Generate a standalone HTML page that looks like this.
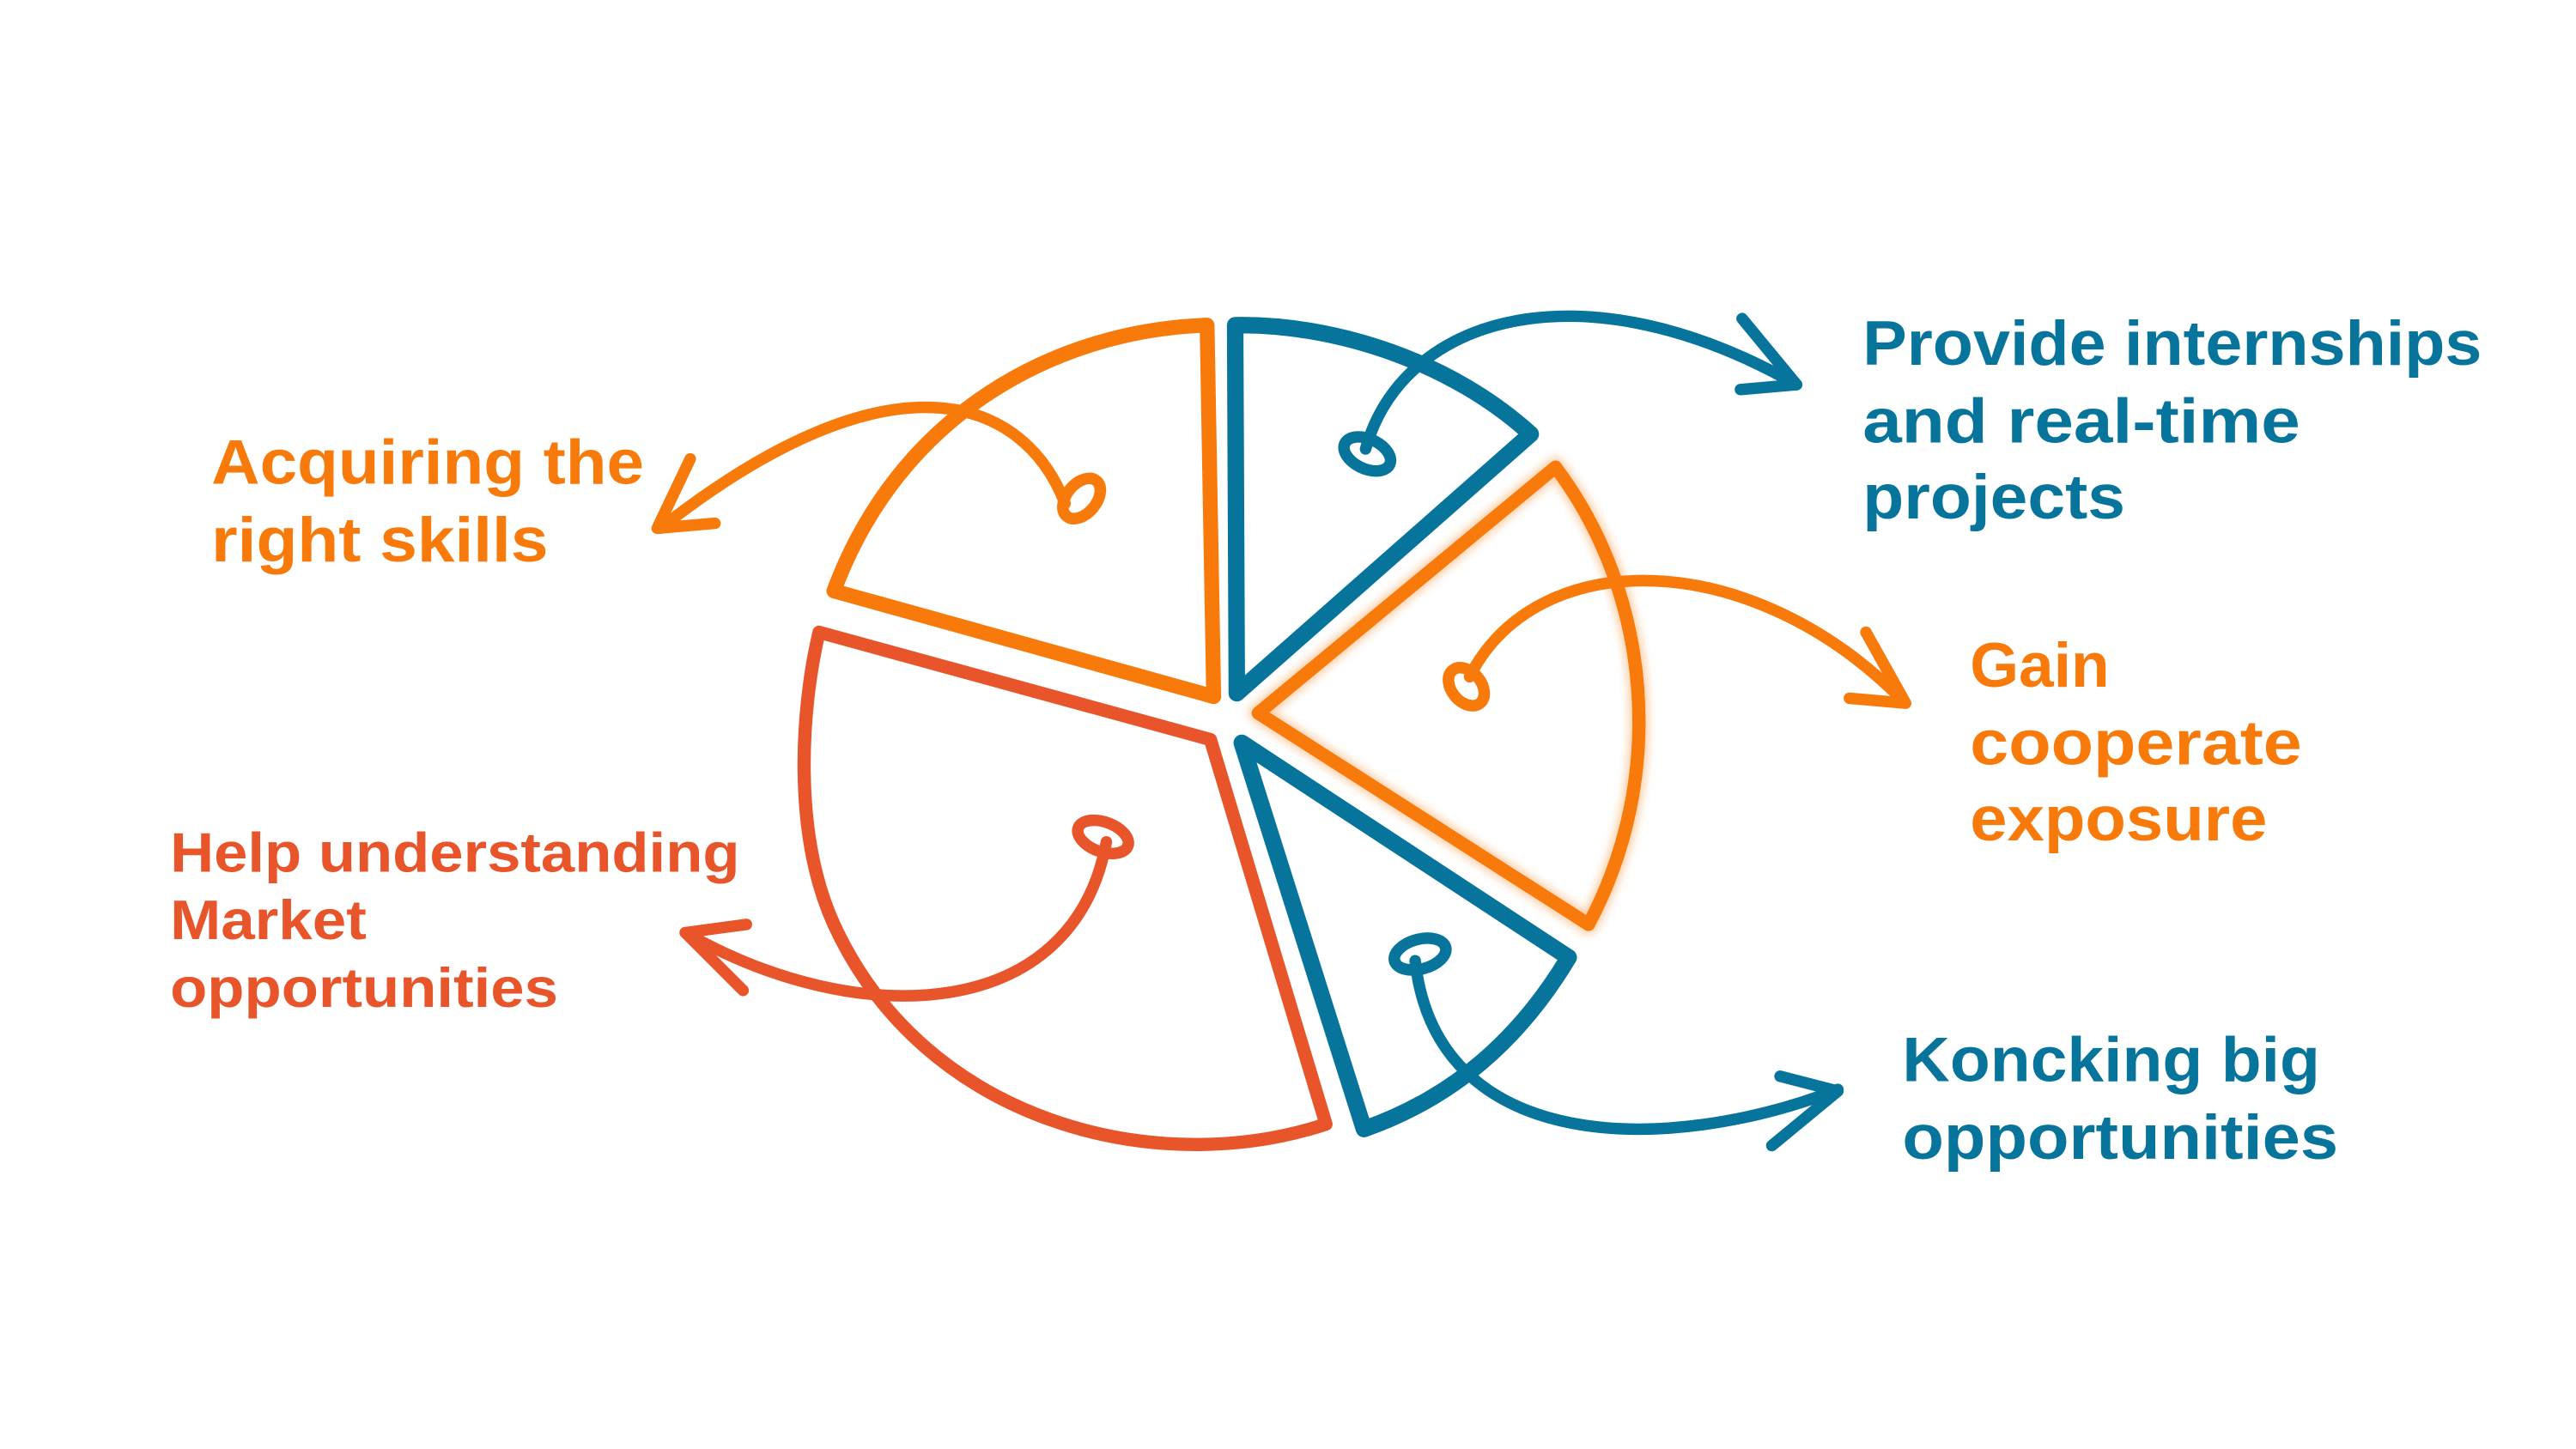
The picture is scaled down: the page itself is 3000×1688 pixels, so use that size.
<!DOCTYPE html>
<html><head><meta charset="utf-8"><style>
html,body{margin:0;padding:0;background:#fff;}
svg{display:block;}
text{font-family:"Liberation Sans",sans-serif;font-weight:bold;}
</style></head><body>
<svg width="3000" height="1688" viewBox="0 0 1560 877.8" preserveAspectRatio="none" xmlns="http://www.w3.org/2000/svg">
<defs>
<filter id="glow" x="-20%" y="-20%" width="140%" height="140%"><feGaussianBlur stdDeviation="2.5"/></filter>
</defs>
<rect width="1560" height="878" fill="#fff"/>
<g fill="none" stroke-linecap="round" stroke-linejoin="round">
<path d="M735,422 L731,197 C640,200 545,250 505,358 Z" stroke="#f77a0a" stroke-width="9"/>
<path d="M749,420 L748,197 C810,196 880,220 927,263 Z" stroke="#07749b" stroke-width="10"/>
<path d="M762,432 L942,283 C1000,360 1010,470 962,560 Z" stroke="#f77a0a" stroke-width="12" opacity="0.35" filter="url(#glow)"/>
<path d="M762,432 L942,283 C1000,360 1010,470 962,560 Z" stroke="#f77a0a" stroke-width="8"/>
<path d="M752,450 L950,580 C920,630 880,665 826,684 Z" stroke="#07749b" stroke-width="10"/>
<path d="M496,383 L733,448 L803,681 C700,715 560,680 505,560 C480,505 485,430 496,383 Z" stroke="#e8552b" stroke-width="8"/>

<path d="M645,305 C620,240 540,210 400,320" stroke="#f77a0a" stroke-width="7"/>
<ellipse cx="655" cy="302" rx="9" ry="14" transform="rotate(40 655 302)" stroke="#f77a0a" stroke-width="7"/>
<path d="M418,278 L398,320 L433,317" stroke="#f77a0a" stroke-width="7"/>
<path d="M827,272 C850,190 960,160 1088,233" stroke="#07749b" stroke-width="7"/>
<ellipse cx="828" cy="275" rx="15" ry="9" transform="rotate(25 828 275)" stroke="#07749b" stroke-width="7"/>
<path d="M1055,193 L1088,233 L1054,236" stroke="#07749b" stroke-width="7"/>
<path d="M890,410 C930,330 1060,330 1153,425" stroke="#f77a0a" stroke-width="7"/>
<ellipse cx="888" cy="416" rx="9" ry="13" transform="rotate(-40 888 416)" stroke="#f77a0a" stroke-width="7"/>
<path d="M1130,383 L1154,426 L1120,423" stroke="#f77a0a" stroke-width="7"/>
<path d="M670,510 C650,620 520,625 415,565" stroke="#e8552b" stroke-width="7"/>
<ellipse cx="668" cy="507" rx="16" ry="9" transform="rotate(20 668 507)" stroke="#e8552b" stroke-width="7"/>
<path d="M450,600 L415,565 L452,560" stroke="#e8552b" stroke-width="7"/>
<path d="M857,582 C870,700 1010,700 1113,660" stroke="#07749b" stroke-width="7"/>
<ellipse cx="860" cy="578" rx="16" ry="9" transform="rotate(-15 860 578)" stroke="#07749b" stroke-width="7"/>
<path d="M1073,694 L1113,661 L1078,652" stroke="#07749b" stroke-width="7"/>
</g>

<g font-size="38">
<text x="128" y="293" fill="#f77a0a" textLength="262" lengthAdjust="spacingAndGlyphs">Acquiring the</text>
<text x="128" y="340" fill="#f77a0a" textLength="204" lengthAdjust="spacingAndGlyphs">right skills</text>
<text x="1128" y="221" fill="#07749b" textLength="375" lengthAdjust="spacingAndGlyphs">Provide internships</text>
<text x="1128" y="268" fill="#07749b" textLength="265" lengthAdjust="spacingAndGlyphs">and real-time</text>
<text x="1128" y="314" fill="#07749b" textLength="159" lengthAdjust="spacingAndGlyphs">projects</text>
<text x="1193" y="416" fill="#f77a0a">Gain</text>
<text x="1193" y="463" fill="#f77a0a" textLength="201" lengthAdjust="spacingAndGlyphs">cooperate</text>
<text x="1193" y="509" fill="#f77a0a" textLength="180" lengthAdjust="spacingAndGlyphs">exposure</text>
<text x="1152" y="655" fill="#07749b" textLength="253" lengthAdjust="spacingAndGlyphs">Koncking big</text>
<text x="1152" y="702" fill="#07749b" textLength="264" lengthAdjust="spacingAndGlyphs">opportunities</text>
</g>
<g font-size="34" fill="#e8552b">
<text x="103" y="528" textLength="345" lengthAdjust="spacingAndGlyphs">Help understanding</text>
<text x="103" y="569" textLength="119" lengthAdjust="spacingAndGlyphs">Market</text>
<text x="103" y="610" textLength="235" lengthAdjust="spacingAndGlyphs">opportunities</text>
</g>
</svg>
</body></html>
